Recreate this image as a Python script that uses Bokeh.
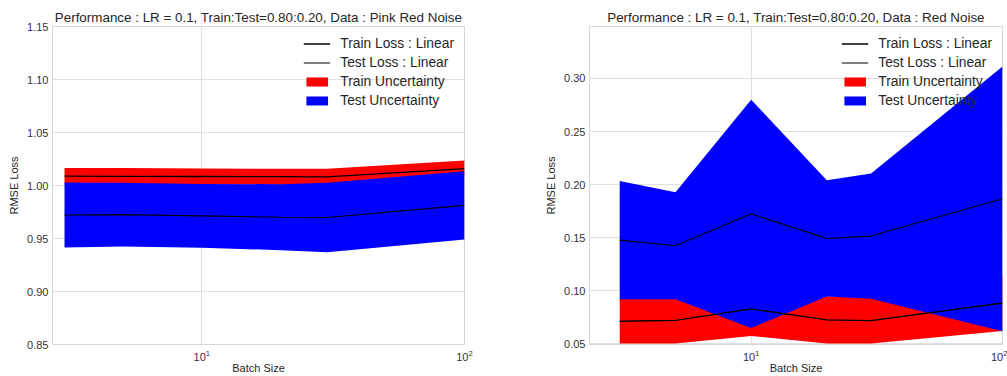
from bokeh.plotting import figure
from bokeh.layouts import row
from bokeh.models import FixedTicker, PrintfTickFormatter, LogTickFormatter, Legend, LegendItem, Range1d
from bokeh.embed import file_html
from bokeh.resources import INLINE

# ---- data ----
batch_sizes = [3, 5, 10, 20, 30, 100]

# Left: Pink Red Noise
pink_train_mean = [1.0088, 1.0087, 1.0085, 1.0083, 1.0081, 1.0160]
pink_train_std = [0.0078, 0.0078, 0.0075, 0.0075, 0.0076, 0.0076]
pink_test_mean = [0.97215, 0.9725, 0.97135, 0.9701, 0.96975, 0.98125]
pink_test_std = [0.03065, 0.0300, 0.03015, 0.0311, 0.03275, 0.03225]

# Right: Red Noise
red_train_mean = [0.0713, 0.0722, 0.0829, 0.0726, 0.0719, 0.0885]
red_train_std = [0.0210, 0.0219, 0.0254, 0.0223, 0.0216, 0.0263]
red_test_mean = [0.1477, 0.1424, 0.1725, 0.1493, 0.1515, 0.1866]
red_test_std = [0.0558, 0.0505, 0.1075, 0.0548, 0.0589, 0.1247]

pink_yticks = [0.85, 0.90, 0.95, 1.00, 1.05, 1.10, 1.15]
red_yticks = [0.05, 0.10, 0.15, 0.20, 0.25, 0.30]
xticks = [10, 100]

FONT = "Liberation Sans"


def make_panel(title, train_m, train_s, test_m, test_s, xr, yr, yticks, width, bl, br):
    p = figure(width=width, height=376, x_axis_type="log",
               x_range=Range1d(*xr), y_range=Range1d(*yr),
               output_backend="svg", toolbar_location=None,
               min_border_left=bl, min_border_right=br,
               min_border_top=26, min_border_bottom=30,
               title=title)
    p.title.align = "center"
    p.title.text_font = FONT
    p.title.text_font_size = "13.4px"
    p.title.text_font_style = "normal"
    p.title.text_color = "#262626"
    p.title.standoff = 4

    p.outline_line_color = "#d6d6d6"
    p.outline_line_width = 1
    p.background_fill_color = "white"
    p.border_fill_color = "white"

    tr_lo = [m - s for m, s in zip(train_m, train_s)]
    tr_hi = [m + s for m, s in zip(train_m, train_s)]
    te_lo = [m - s for m, s in zip(test_m, test_s)]
    te_hi = [m + s for m, s in zip(test_m, test_s)]

    r_train_band = p.varea(x=batch_sizes, y1=tr_lo, y2=tr_hi, fill_color="#ff0000", fill_alpha=1.0)
    r_test_band = p.varea(x=batch_sizes, y1=te_lo, y2=te_hi, fill_color="#0000ff", fill_alpha=1.0)
    r_train_line = p.line(batch_sizes, train_m, line_color="black", line_width=1.3)
    r_test_line = p.line(batch_sizes, test_m, line_color="black", line_width=1.1)

    legend = Legend(items=[
        LegendItem(label="Train Loss : Linear", renderers=[r_train_line]),
        LegendItem(label="Test Loss : Linear", renderers=[r_test_line]),
        LegendItem(label="Train Uncertainty", renderers=[r_train_band]),
        LegendItem(label="Test Uncertainty", renderers=[r_test_band]),
    ])
    legend.location = "top_right"
    legend.margin = 2
    legend.padding = 8
    legend.spacing = 4
    legend.glyph_width = 27
    legend.glyph_height = 11
    legend.label_height = 11
    legend.label_standoff = 10
    legend.label_text_font = FONT
    legend.label_text_font_size = "13.8px"
    legend.label_text_color = "#262626"
    legend.border_line_alpha = 0
    legend.background_fill_alpha = 0
    p.add_layout(legend)

    p.xaxis.ticker = FixedTicker(ticks=xticks)
    p.xaxis.formatter = LogTickFormatter()
    p.yaxis.ticker = FixedTicker(ticks=yticks)
    p.yaxis.formatter = PrintfTickFormatter(format="%.2f")

    for ax in (p.xaxis, p.yaxis):
        ax.axis_line_color = None
        ax.major_tick_line_color = None
        ax.minor_tick_line_color = None
        ax.major_tick_out = 0
        ax.major_tick_in = 0
        ax.minor_tick_out = 0
        ax.minor_tick_in = 0
        ax.major_label_text_font = FONT
        ax.major_label_text_font_size = "11px"
        ax.major_label_text_color = "#333333"
        ax.axis_label_text_font = FONT
        ax.axis_label_text_font_size = "11px"
        ax.axis_label_text_font_style = "normal"
        ax.axis_label_text_color = "#262626"
        ax.major_label_standoff = 4
        ax.axis_label_standoff = 4
    p.xaxis.axis_label = "Batch Size"
    p.yaxis.axis_label = "RMSE Loss"
    p.xaxis.major_label_standoff = 5
    p.xaxis.axis_label_standoff = -2

    p.xgrid.ticker = FixedTicker(ticks=xticks)
    p.ygrid.ticker = FixedTicker(ticks=yticks)
    for g in (p.xgrid, p.ygrid):
        g.grid_line_color = "#e0e0e0"
        g.grid_line_width = 1
    return p


left = make_panel("Performance : LR = 0.1, Train:Test=0.80:0.20, Data : Pink Red Noise",
                  pink_train_mean, pink_train_std, pink_test_mean, pink_test_std,
                  (2.70, 100), (0.85, 1.15), pink_yticks, 500, 52, 36)
right = make_panel("Performance : LR = 0.1, Train:Test=0.80:0.20, Data : Red Noise",
                   red_train_mean, red_train_std, red_test_mean, red_test_std,
                   (2.275, 100), (0.0494, 0.3489), red_yticks, 507, 89, 5)

layout = row(left, right)
open("out.html", "w").write(file_html(layout, INLINE))
